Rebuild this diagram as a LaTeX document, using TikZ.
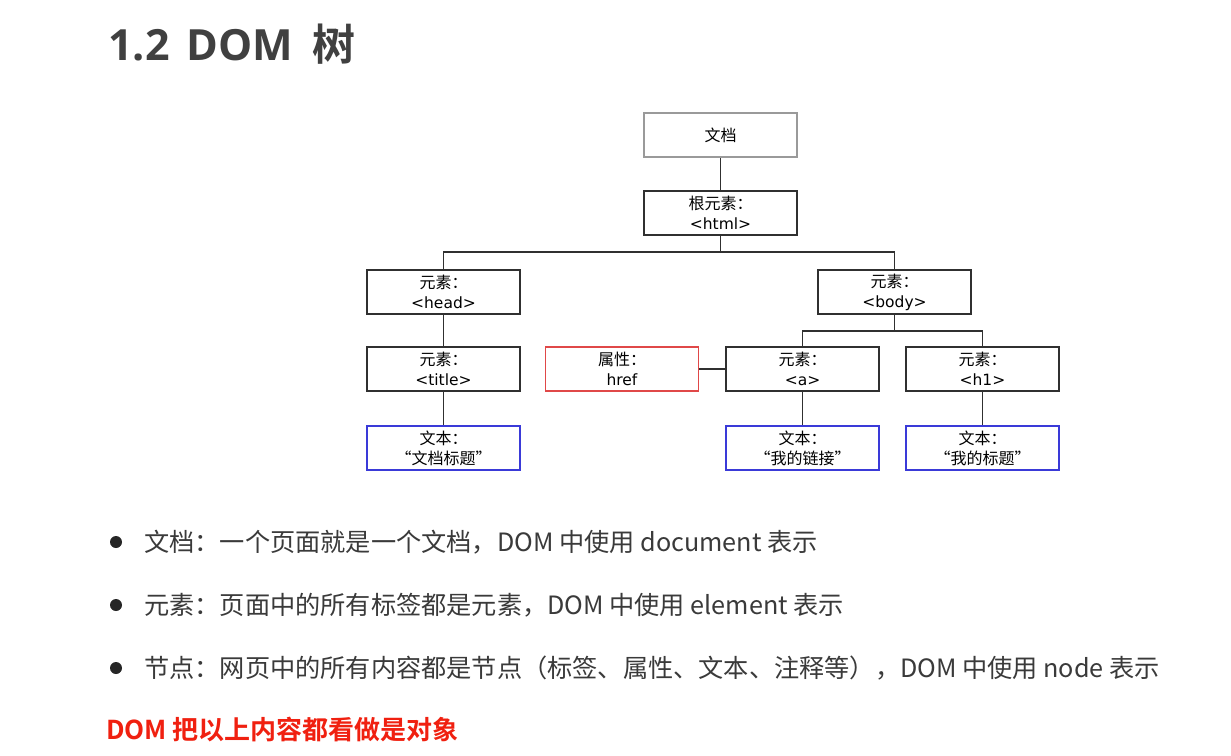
\documentclass[tikz,border=0pt]{standalone}
\usepackage{fontspec}
\setmainfont{Noto Sans CJK SC}
\newfontfamily\cjkb{Noto Sans CJK SC Bold}
\newfontfamily\latb{Open Sans Bold}
\newfontfamily\verd{DejaVu Sans}
\usetikzlibrary{positioning}
\definecolor{boxline}{HTML}{303030}
\definecolor{grayline}{HTML}{9A9A9A}
\definecolor{redline}{HTML}{E04848}
\definecolor{blueline}{HTML}{3A3AD8}
\definecolor{titlegray}{HTML}{404040}
\definecolor{bodytext}{HTML}{3A3A3A}
\definecolor{redtext}{HTML}{F02010}
\newcommand\lt[1]{{\verd\fontsize{15.5}{20}\selectfont #1}}
\tikzset{
  treebox/.style={draw=boxline, line width=1.6pt, rectangle, minimum width=153pt, minimum height=44pt,
    inner sep=0pt, align=center, font=\fontsize{16}{20}\selectfont, text=black},
  docbox/.style={treebox, draw=grayline},
  attrbox/.style={treebox, draw=redline},
  textbox/.style={treebox, draw=blueline},
  link/.style={draw=boxline, line width=1.6pt},
  bullettext/.style={anchor=west, inner sep=0pt, font=\fontsize{25.2}{28}\selectfont, text=bodytext},
  dot/.style={circle, fill=black!85, minimum size=12pt, inner sep=0pt}
}
\begin{document}
\begin{tikzpicture}[x=1pt,y=-1pt]
\useasboundingbox[fill=white] (0,0) rectangle (1231,755);
% title
\node[anchor=west, inner sep=0pt, text=titlegray, font=\fontsize{43}{46}\selectfont] (ttl) at (108,44) {{\latb 1.2}\hspace{17pt}{\latb DOM}\hspace{19pt}{\cjkb 树}};
% tree
\node[docbox] (doc) at (720.5,135) {文档};
\node[treebox] (html) at (720.5,213) {根元素：\\\lt{<html>}};
\node[treebox] (head) at (443.5,292) {元素：\\\lt{<head>}};
\node[treebox] (body) at (894.5,292) {元素：\\\lt{<body>}};
\node[treebox] (title) at (443.5,369) {元素：\\\lt{<title>}};
\node[attrbox] (href) at (622,369) {属性：\\\lt{href}};
\node[treebox] (a) at (802.5,369) {元素：\\\lt{<a>}};
\node[treebox] (h1) at (982.5,369) {元素：\\\lt{<h1>}};
\node[textbox] (t1) at (443.5,448) {文本：\\“文档标题”};
\node[textbox] (t2) at (802.5,448) {文本：\\“我的链接”};
\node[textbox] (t3) at (982.5,448) {文本：\\“我的标题”};
\coordinate (b1) at (720.5,252);
\coordinate (b2) at (894.5,331);
\draw[link] (doc) -- (html);
\draw[link] (html) -- (b1) -| (head);
\draw[link] (b1) -| (body);
\draw[link] (head) -- (title);
\draw[link] (title) -- (t1);
\draw[link] (body) -- (b2) -| (a);
\draw[link] (b2) -| (h1);
\draw[link] (href) -- (a);
\draw[link] (a) -- (t2);
\draw[link] (h1) -- (t3);
% bullets
\node[dot] (d1) at (116,542) {};
\node[dot] (d2) at (116,605) {};
\node[dot] (d3) at (116,668) {};
\node[bullettext] (l1) at (144,542) {文档：一个页面就是一个文档，DOM 中使用 document 表示};
\node[bullettext] (l2) at (144,605) {元素：页面中的所有标签都是元素，DOM 中使用 element 表示};
\node[bullettext] (l3) at (144,668) {节点：网页中的所有内容都是节点（标签、属性、文本、注释等），DOM 中使用 node 表示};
\node[anchor=west, inner sep=0pt, text=redtext, font=\cjkb\fontsize{26}{28}\selectfont] (note) at (106,730) {DOM 把以上内容都看做是对象};
\end{tikzpicture}
\end{document}
